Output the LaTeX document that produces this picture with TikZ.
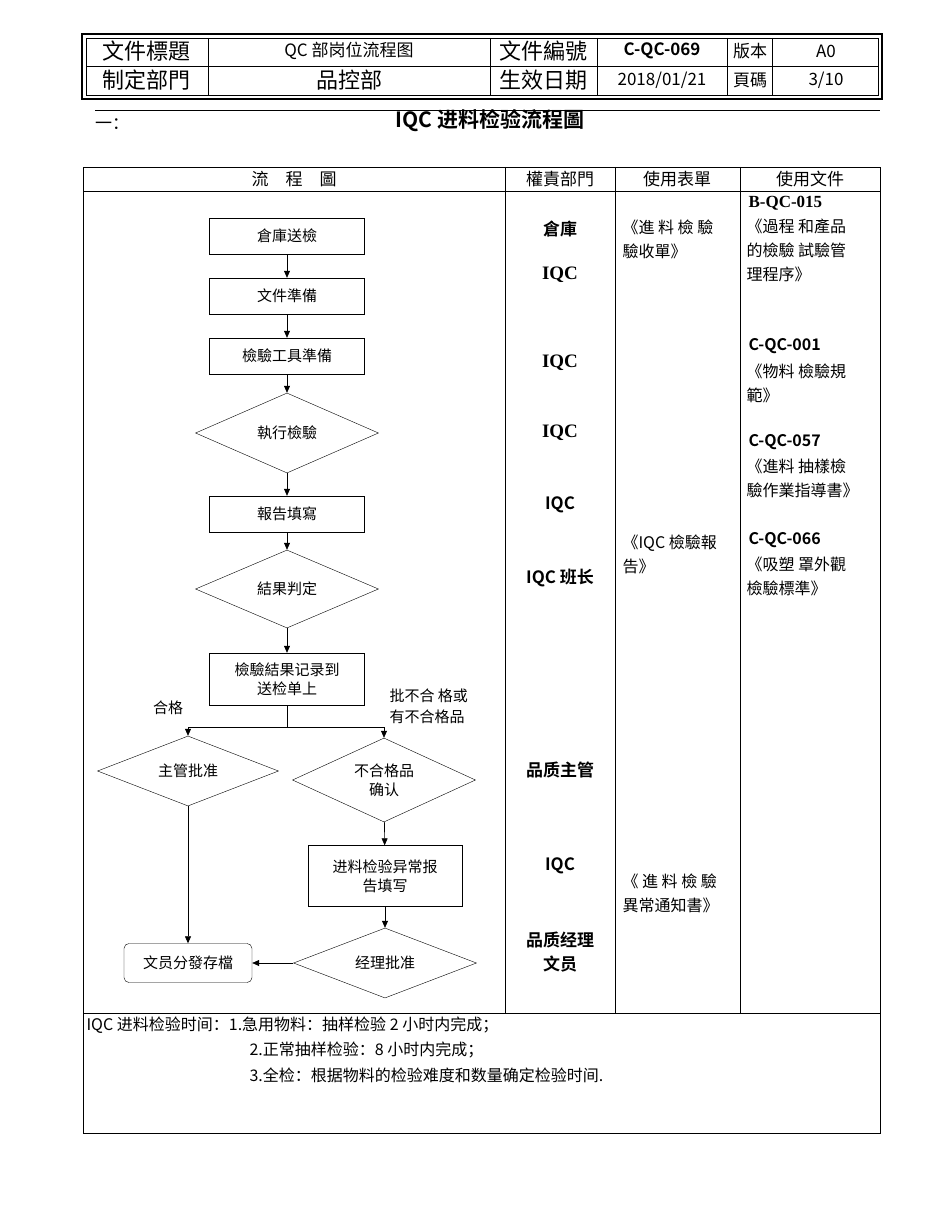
\documentclass[tikz,border=0pt]{standalone}
\usepackage{fontspec}
\setmainfont{Noto Sans CJK SC}
\newfontfamily\cjkb{Noto Sans CJK SC Bold}
\newfontfamily\serifb{Liberation Serif}
\usetikzlibrary{shapes.geometric,arrows.meta}
\begin{document}
\begin{tikzpicture}[x=1pt,y=-1pt,
  box/.style={draw,minimum width=155pt,minimum height=36pt,font=\fontsize{15}{19}\selectfont,align=center,inner sep=1pt},
  dia/.style={draw,diamond,aspect=2.5,inner sep=0pt,font=\fontsize{15}{19}\selectfont,align=center},
  arr/.style={-{Triangle[length=7pt,width=6pt]},semithick},
  hd/.style={font=\fontsize{22}{24}\selectfont},
  hs/.style={font=\fontsize{17}{20}\selectfont},
  tx/.style={font=\fontsize{16}{24}\selectfont,anchor=west,align=left},
  rb/.style={font=\cjkb\fontsize{17}{20}\selectfont},
  sb/.style={font=\serifb\bfseries\fontsize{19}{20}\selectfont}]
\useasboundingbox (0,0) rectangle (950,1230);
% header
\draw[line width=1.2pt] (82,34) rectangle (882,99);
\draw[thick] (86,38) rectangle (878,95);
\draw (86,66)--(878,66);
\foreach \x in {208,490,597,727,772} \draw (\x,38)--(\x,95);
\node[hd] (h1) at (146,51) {文件標題};
\node[hs] (h2) at (349,51) {QC 部岗位流程图};
\node[hd] (h3) at (543,51) {文件編號};
\node[font=\cjkb\fontsize{17}{20}\selectfont] (h4) at (662,51) {C-QC-069};
\node[hs] (h5) at (750,51) {版本};
\node[hs] (h6) at (826,51) {A0};
\node[hd] (h7) at (146,80) {制定部門};
\node[hd] (h8) at (349,80) {品控部};
\node[hd] (h9) at (543,80) {生效日期};
\node[hs] (h10) at (662,80) {2018/01/21};
\node[hs] (h11) at (750,80) {頁碼};
\node[hs] (h12) at (826,80) {3/10};
\draw[thick] (95,110)--(880,110);
\node[hs] (yi) at (112,124) {一：};
\node[font=\cjkb\fontsize{21}{24}\selectfont] (title) at (490,121) {IQC 进料检验流程圖};
% main table
\draw (83,167) rectangle (880,1133);
\draw (83,191)--(880,191);
\draw (83,1013)--(880,1013);
\foreach \x in {505,615,740} \draw (\x,167)--(\x,1013);
\node[hs] (c1) at (294,179) {流\quad 程\quad 圖};
\node[hs] (c2) at (560,179) {權責部門};
\node[hs] (c3) at (677,179) {使用表單};
\node[hs] (c4) at (810,179) {使用文件};
% flow
\node[box] (a) at (287,236) {倉庫送檢};
\node[box] (b) at (287,296) {文件準備};
\node[box] (c) at (287,356) {檢驗工具準備};
\node[dia,minimum width=183pt,minimum height=80pt] (d) at (287,433) {執行檢驗};
\node[box] (e) at (287,514) {報告填寫};
\node[dia,minimum width=183pt,minimum height=78pt] (f) at (287,589) {結果判定};
\node[box,minimum height=52pt] (g) at (287,679) {檢驗結果记录到\\送检单上};
\node[dia,minimum width=181pt,minimum height=70pt] (h) at (188,771) {主管批准};
\node[dia,minimum width=183pt,minimum height=84pt] (i) at (384,780) {不合格品\\确认};
\node[box,minimum width=154pt,minimum height=61pt] (j) at (385,876) {进料检验异常报\\告填写};
\node[dia,minimum width=183pt,minimum height=70pt] (k) at (385,963) {经理批准};
\node[draw,rounded corners=5pt,minimum width=128pt,minimum height=39pt,font=\fontsize{15}{19}\selectfont] (l) at (188,963) {文员分發存檔};
\coordinate (s) at (287,727);
\coordinate (sl) at (188,727);
\coordinate (sr) at (384,727);
\draw[arr] (a)--(b);
\draw[arr] (b)--(c);
\draw[arr] (c)--(d);
\draw[arr] (d)--(e);
\draw[arr] (e)--(f);
\draw[arr] (f)--(g);
\draw[semithick] (g.south)--(s);
\draw[semithick] (sl)--(sr);
\draw[arr] (sl)--(h.north);
\draw[arr] (sr)--(i.north);
\draw[arr] (i)--(j);
\draw[arr] (j)--(k);
\draw[arr] (h.south)--(l.north);
\draw[arr] (k.west)--(l.east);
\node[font=\fontsize{15}{19}\selectfont] (lab1) at (168,708) {合格};
\node[tx,font=\fontsize{15}{21}\selectfont] (lab2) at (386,706) {批不合 格或\\有不合格品};
% responsibility
\node[rb] (r1) at (560,229) {倉庫};
\node[sb] (r2) at (560,275) {IQC};
\node[sb] (r3) at (560,363) {IQC};
\node[sb] (r4) at (560,433) {IQC};
\node[rb] (r5) at (560,505) {IQC};
\node[rb] (r6) at (560,578) {IQC 班长};
\node[rb] (r7) at (560,770) {品质主管};
\node[rb] (r8) at (560,866) {IQC};
\node[rb] (r9) at (560,940) {品质经理};
\node[rb] (r10) at (560,964) {文员};
% forms
\node[tx] (f1) at (619,239) {《進 料 檢 驗\\驗收單》};
\node[tx] (f2) at (619,554) {《IQC 檢驗報\\告》};
\node[tx] (f3) at (619,893) {《 進 料 檢 驗\\異常通知書》};
% docs
\node[anchor=west,font=\serifb\bfseries\fontsize{17}{18}\selectfont] (d1) at (745,203) {B-QC-015};
\node[tx] (d2) at (743,250) {《過程 和產品\\的檢驗 試驗管\\理程序》};
\node[tx,font=\cjkb\fontsize{16}{24}\selectfont] (d3) at (745,346) {C-QC-001};
\node[tx] (d4) at (743,383) {《物料 檢驗規\\範》};
\node[tx,font=\cjkb\fontsize{16}{24}\selectfont] (d5) at (745,442) {C-QC-057};
\node[tx] (d6) at (743,478) {《進料 抽樣檢\\驗作業指導書》};
\node[tx,font=\cjkb\fontsize{16}{24}\selectfont] (d7) at (745,540) {C-QC-066};
\node[tx] (d8) at (743,576) {《吸塑 罩外觀\\檢驗標準》};
% notes
\node[tx] (n1) at (83,1025) {IQC 进料检验时间：1.急用物料：抽样检验 2 小时内完成；};
\node[tx] (n2) at (246,1050) {2.正常抽样检验：8 小时内完成；};
\node[tx] (n3) at (246,1075) {3.全检：根据物料的检验难度和数量确定检验时间.};
\end{tikzpicture}
\end{document}
